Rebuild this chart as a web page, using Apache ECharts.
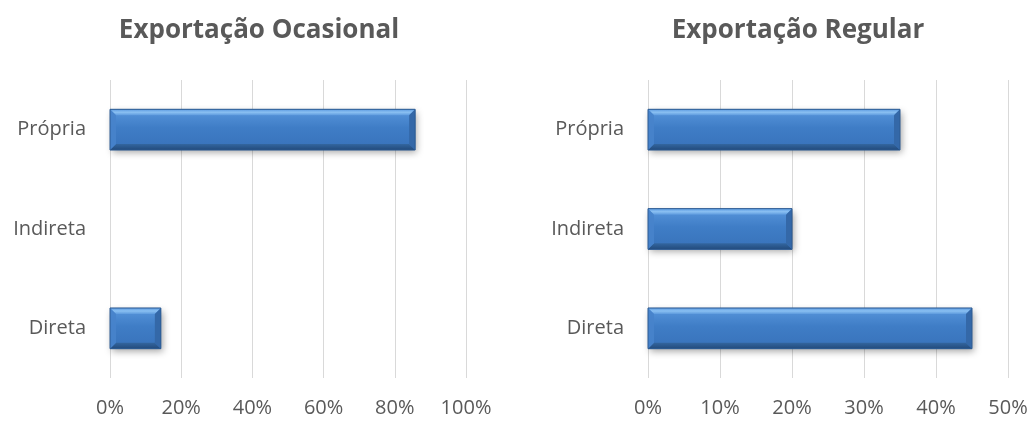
<!DOCTYPE html>
<html>
<head>
<meta charset="utf-8">
<script src="https://cdn.jsdelivr.net/npm/echarts@6/dist/echarts.min.js"></script>
<style>
  html, body { margin: 0; padding: 0; background: #fff; }
  #chart { width: 1033px; height: 421px; }
</style>
</head>
<body>
<div id="chart"></div>
<script>
// Export channel shares, bottom-to-top category order
const categories = ['Direta', 'Indireta', 'Própria'];
const ocasionalValues = [1 / 7, 0, 6 / 7];
const regularValues = [0.45, 0.20, 0.35];
const titleOcasional = 'Exportação Ocasional';
const titleRegular = 'Exportação Regular';

const FONT = '"Open Sans", "Liberation Sans", sans-serif';
const TEXT = '#595959';

// Bevelled bar: body with vertical gradient plus four edge facets
function bevelBar(params, api) {
  const v = api.value(0);
  const c = api.value(1);
  if (!(v > 0)) return null;
  const start = api.coord([0, c]);
  const end = api.coord([v, c]);
  const h = api.size([0, 1])[1] * 0.41;
  const x0 = start[0], x1 = end[0];
  const y0 = start[1] - h / 2, y1 = start[1] + h / 2;
  const b = Math.min(6, (x1 - x0) / 3);
  return {
    type: 'group',
    children: [
      {
        type: 'rect',
        shape: { x: x0, y: y0, width: x1 - x0, height: h },
        style: {
          fill: new echarts.graphic.LinearGradient(0, 0, 0, 1, [
            { offset: 0, color: '#5896dc' },
            { offset: 0.45, color: '#3f7dc6' },
            { offset: 1, color: '#3872ba' }
          ]),
          shadowBlur: 7,
          shadowOffsetX: 2,
          shadowOffsetY: 3,
          shadowColor: 'rgba(0,0,0,0.35)'
        }
      },
      { // top facet
        type: 'polygon',
        shape: { points: [[x0, y0], [x1, y0], [x1 - b, y0 + b], [x0 + b, y0 + b]] },
        style: {
          fill: new echarts.graphic.LinearGradient(0, 0, 0, 1, [
            { offset: 0, color: '#5c9ae0' },
            { offset: 0.5, color: '#8ac0f2' },
            { offset: 1, color: '#5e9bde' }
          ])
        }
      },
      { // bottom facet
        type: 'polygon',
        shape: { points: [[x0, y1], [x1, y1], [x1 - b, y1 - b], [x0 + b, y1 - b]] },
        style: {
          fill: new echarts.graphic.LinearGradient(0, 0, 0, 1, [
            { offset: 0, color: '#33669f' },
            { offset: 1, color: '#224a7c' }
          ])
        }
      },
      { // left facet
        type: 'polygon',
        shape: { points: [[x0, y0], [x0 + b, y0 + b], [x0 + b, y1 - b], [x0, y1]] },
        style: { fill: '#4783cb', opacity: 0.9 }
      },
      { // right facet
        type: 'polygon',
        shape: { points: [[x1, y0], [x1 - b, y0 + b], [x1 - b, y1 - b], [x1, y1]] },
        style: { fill: '#3468a8' }
      },
      { // outline
        type: 'rect',
        shape: { x: x0, y: y0, width: x1 - x0, height: h },
        style: { fill: 'none', stroke: '#2c5a92', lineWidth: 1 }
      }
    ]
  };
}

function pctLabel(v) { return Math.round(v * 100) + '%'; }

function xAxisFor(gridIndex, max, interval) {
  return {
    type: 'value', gridIndex, min: 0, max, interval,
    axisLine: { show: false },
    axisTick: { show: false },
    splitLine: { show: true, lineStyle: { color: '#d9d9d9', width: 1 } },
    axisLabel: { formatter: pctLabel, color: TEXT, fontFamily: FONT, fontSize: 20, margin: 20 }
  };
}

function yAxisFor(gridIndex) {
  return {
    type: 'category', gridIndex, data: categories,
    axisLine: { show: false },
    axisTick: { show: false },
    axisLabel: { color: TEXT, fontFamily: FONT, fontSize: 20, margin: 24 }
  };
}

const chart = echarts.init(document.getElementById('chart'), null, { renderer: 'canvas' });
chart.setOption({
  animation: false,
  backgroundColor: '#ffffff',
  title: [
    { text: titleOcasional, left: 254, top: 13, textAlign: 'center',
      textStyle: { color: TEXT, fontFamily: FONT, fontWeight: 'bold', fontSize: 26 } },
    { text: titleRegular, left: 793, top: 13, textAlign: 'center',
      textStyle: { color: TEXT, fontFamily: FONT, fontWeight: 'bold', fontSize: 26 } }
  ],
  grid: [
    { left: 110, right: 567, top: 80, bottom: 43 },
    { left: 648, right: 25, top: 80, bottom: 43 }
  ],
  xAxis: [xAxisFor(0, 1, 0.2), xAxisFor(1, 0.5, 0.1)],
  yAxis: [yAxisFor(0), yAxisFor(1)],
  series: [
    {
      type: 'custom', xAxisIndex: 0, yAxisIndex: 0,
      renderItem: bevelBar,
      encode: { x: 0, y: 1 },
      data: ocasionalValues.map((v, i) => [v, i])
    },
    {
      type: 'custom', xAxisIndex: 1, yAxisIndex: 1,
      renderItem: bevelBar,
      encode: { x: 0, y: 1 },
      data: regularValues.map((v, i) => [v, i])
    }
  ]
});
</script>
</body>
</html>
